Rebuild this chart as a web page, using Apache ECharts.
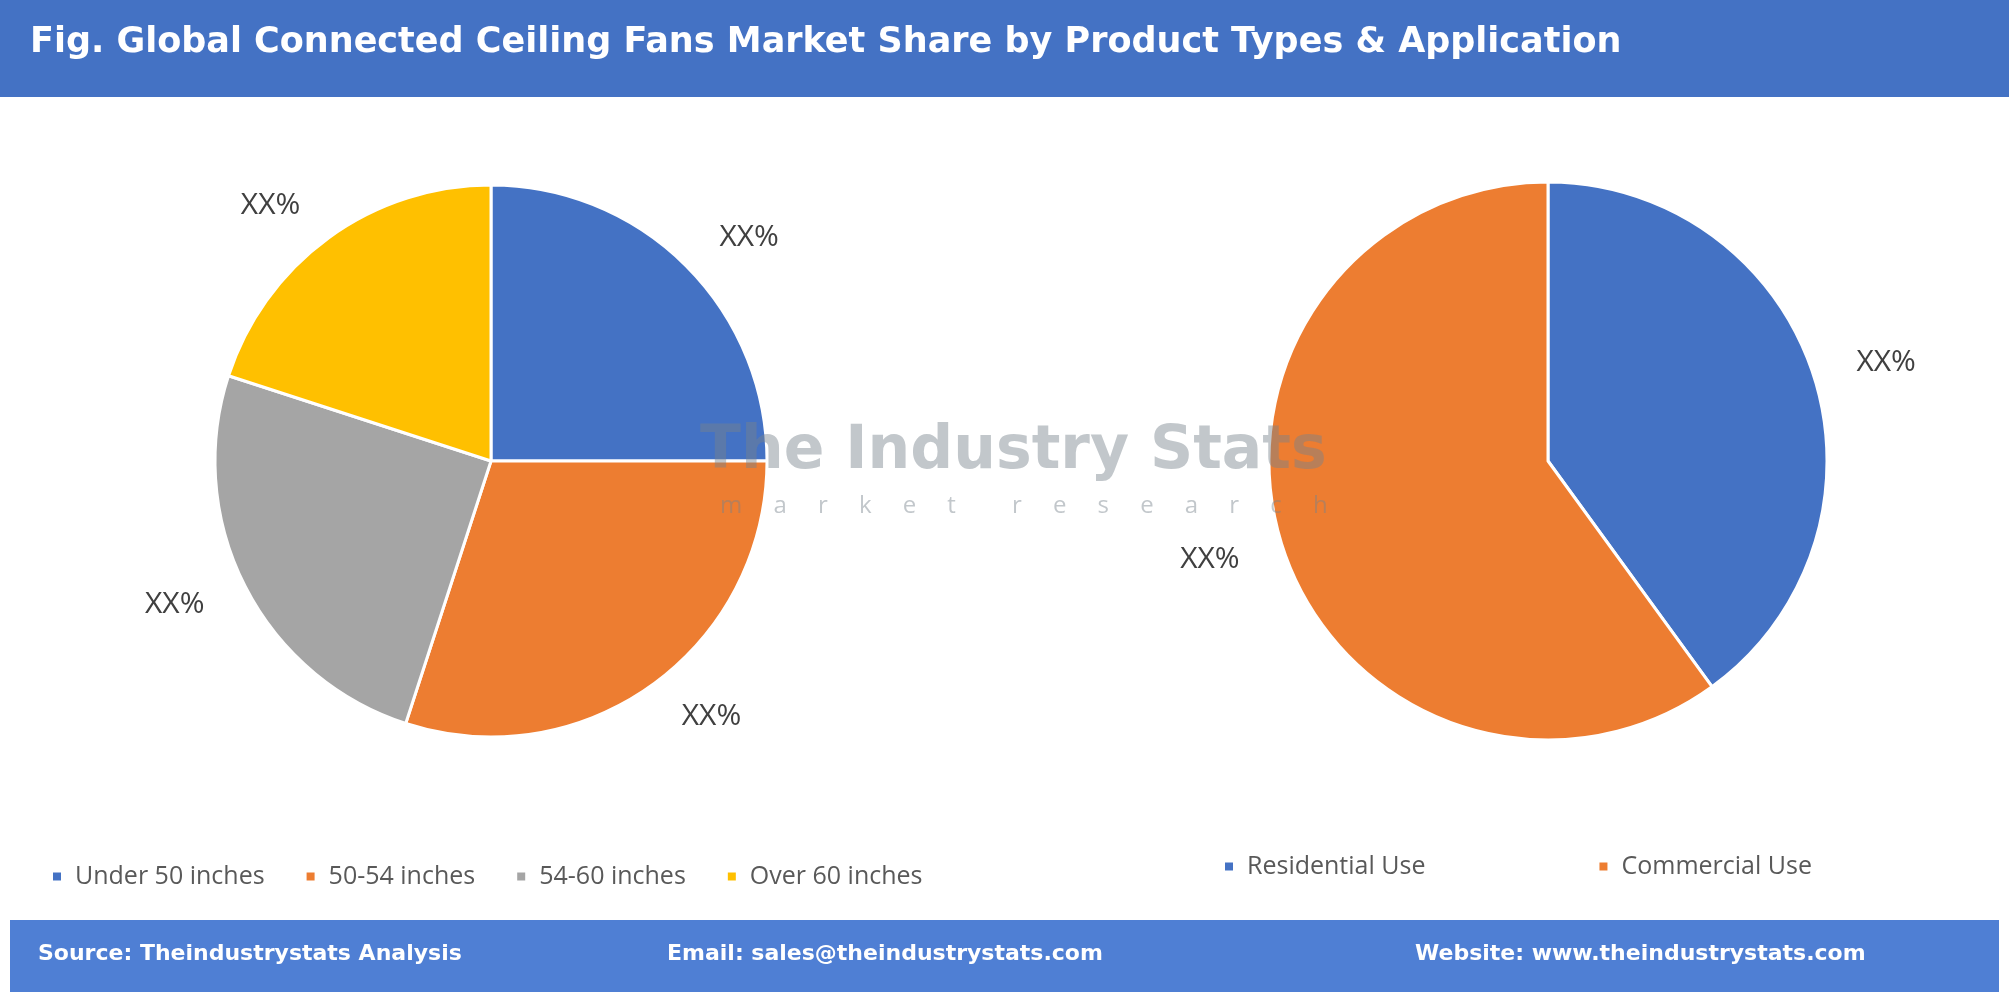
<!DOCTYPE html>
<html><head><meta charset="utf-8">
<script src="https://cdn.jsdelivr.net/npm/echarts@6/dist/echarts.min.js"></script>
<style>html,body{margin:0;padding:0;background:#fff}#c{width:2009px;height:994px}</style>
</head><body><div id="c"></div>
<script>
const typeNames = ['Under 50 inches','50-54 inches','54-60 inches','Over 60 inches'];
const typeValues = [25,30,25,20];
const appNames = ['Residential Use','Commercial Use'];
const appValues = [40,60];
const colors = ['#4472C4','#ED7D31','#A5A5A5','#FFC000'];
const chart = echarts.init(document.getElementById('c'));
const lbl = {show:true,position:'outside',formatter:'XX%',fontSize:30,color:'#404040',fontFamily:'Open Sans'};
chart.setOption({
  animation:false,
  color:colors,
  graphic:[
    {type:'rect',shape:{x:0,y:0,width:2009,height:97},style:{fill:'#4472C4'}},
    {type:'text',left:30,top:25,style:{text:'Fig. Global Connected Ceiling Fans Market Share by Product Types & Application',fill:'#fff',font:'bold 35px "DejaVu Sans"'}},
    {type:'rect',shape:{x:10,y:920,width:1989,height:72},style:{fill:'#4F7FD4'}},
    {type:'text',left:38,top:943,style:{text:'Source: Theindustrystats Analysis',fill:'#fff',font:'bold 22px "DejaVu Sans"'}},
    {type:'text',left:667,top:943,style:{text:'Email: sales@theindustrystats.com',fill:'#fff',font:'bold 22px "DejaVu Sans"'}},
    {type:'text',left:1415,top:943,style:{text:'Website: www.theindustrystats.com',fill:'#fff',font:'bold 22px "DejaVu Sans"'}},
    {type:'text',left:700,top:422,z:100,style:{text:'The Industry Stats',fill:'rgba(120,130,140,0.45)',font:'bold 60px "DejaVu Sans"'}},
    {type:'text',left:720,top:494,z:100,style:{text:'m     a     r     k     e     t         r     e     s     e     a     r     c     h',fill:'rgba(120,130,140,0.45)',font:'24px "Open Sans"'}}
  ],
  legend:[
    {data:typeNames,left:46,top:859,itemWidth:10,itemHeight:10,itemGap:40,icon:'rect',textStyle:{fontSize:25,color:'#595959',fontFamily:'Open Sans',padding:[0,0,0,8]}},
    {data:appNames,left:1218,top:849,itemWidth:10,itemHeight:10,itemGap:172,icon:'rect',textStyle:{fontSize:25,color:'#595959',fontFamily:'Open Sans',padding:[0,0,0,8]}}
  ],
  series:[
    {type:'pie',center:[491,461],radius:[0,276],startAngle:90,clockwise:true,
     data:typeNames.map((n,i)=>({name:n,value:typeValues[i]})),
     itemStyle:{borderColor:'#fff',borderWidth:3},
     label:lbl,labelLine:{show:false,length:40,length2:0}},
    {type:'pie',center:[1548,461],radius:[0,279],startAngle:90,clockwise:true,
     data:appNames.map((n,i)=>({name:n,value:appValues[i],itemStyle:{color:colors[i]}})),
     itemStyle:{borderColor:'#fff',borderWidth:3},
     label:lbl,labelLine:{show:false,length:40,length2:0}}
  ]
});
</script></body></html>
